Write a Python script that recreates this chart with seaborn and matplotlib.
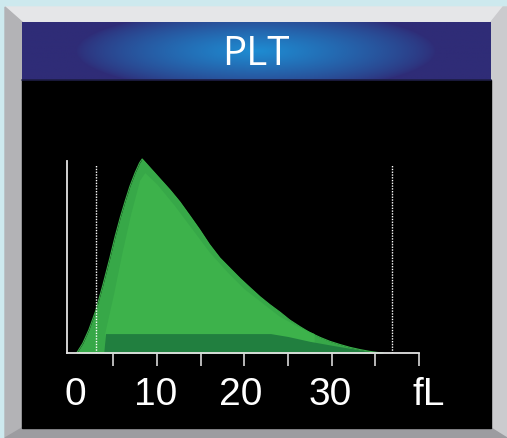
import numpy as np
import pandas as pd
import matplotlib
matplotlib.use("Agg")
import matplotlib.pyplot as plt
from matplotlib.patches import Polygon, Rectangle
import seaborn as sns

# PLT volume histogram (fL vs. relative height)
volume = [0.8, 1.5, 2.2, 3.0, 3.8, 4.6, 5.2, 5.8, 6.4, 6.9, 7.5, 8.0, 8.3,
          9.0, 10.3, 11.5, 12.6, 13.8, 14.9, 16.0, 17.2, 18.4, 19.5, 20.7,
          21.8, 22.9, 24.1, 25.2, 26.4, 27.5, 28.7, 29.8, 31.0, 32.1, 33.3,
          34.4, 35.2, 35.9]
height = [0.0, 0.05, 0.12, 0.22, 0.35, 0.49, 0.60, 0.70, 0.79, 0.86, 0.93,
          0.98, 1.0, 0.965, 0.90, 0.84, 0.78, 0.705, 0.635, 0.56, 0.49, 0.435,
          0.385, 0.335, 0.29, 0.25, 0.21, 0.17, 0.135, 0.105, 0.08, 0.06,
          0.043, 0.029, 0.017, 0.008, 0.003, 0.0]
# lighter inner face of the 3D hump
inner_volume = [4.0, 5.0, 6.0, 7.0, 8.0, 8.6, 10.0, 12.0, 14.0, 16.0, 18.0,
                20.0, 22.0, 24.0, 26.0, 28.0]
inner_height = [0.10, 0.30, 0.52, 0.72, 0.89, 0.93, 0.87, 0.76, 0.64, 0.52,
                0.42, 0.33, 0.26, 0.19, 0.14, 0.10]
# dark base band
base_volume = [3.9, 4.1, 23.0, 25.0, 27.5, 30.0, 32.0, 34.0, 35.9]
base_height = [0.0, 0.10, 0.10, 0.085, 0.06, 0.04, 0.025, 0.01, 0.0]

limits = [3.0, 36.9]
tick_pos = [5, 10, 15, 20, 25, 30, 35, 40]
label_pos = [0.6, 9.8, 19.6, 29.8, 41.1]
label_txt = ["0", "10", "20", "30", "fL"]
title = "PLT"

df = pd.DataFrame({"volume": volume, "height": height})

sns.set_theme(style="dark")
plt.rcParams["font.family"] = ["Liberation Sans", "DejaVu Sans"]

W, H = 507, 438
fig = plt.figure(figsize=(W / 100, H / 100), dpi=100)

# background frame drawn in pixel coordinates
bg = fig.add_axes([0, 0, 1, 1])
bg.set_xlim(0, W)
bg.set_ylim(H, 0)
bg.axis("off")
bg.add_patch(Rectangle((0, 0), W, H, color="#cde9ee"))
bg.add_patch(Polygon([(5, 7), (503, 7), (491, 22), (22, 22)], color="#e5e6e8"))
bg.add_patch(Polygon([(5, 7), (22, 22), (22, 428), (5, 438)], color="#b3b3b6"))
bg.add_patch(Polygon([(503, 7), (507, 7), (507, 438), (491, 428), (491, 22)], color="#cbcbce"))
bg.add_patch(Polygon([(5, 438), (22, 428), (491, 428), (507, 438)], color="#9c9ca0"))
bg.add_patch(Rectangle((22, 80), 469, 348, color="black"))

# header with radial blue glow
gx = np.linspace(22, 491, 400)
gy = np.linspace(22, 80, 60)
XX, YY = np.meshgrid(gx, gy)
r = np.sqrt(((XX - 256) / 180) ** 2 + ((YY - 51) / 42) ** 2)
t = np.clip(1 - r, 0, 1) ** 0.75
c0 = np.array([0x2f, 0x2c, 0x77]) / 255
c1 = np.array([0x1e, 0x8c, 0xd2]) / 255
img = c0 + (c1 - c0) * t[..., None]
bg.imshow(img, extent=[22, 491, 80, 22], aspect="auto", zorder=2)
bg.plot([22, 491], [80, 80], color="#1d1d45", lw=1.2, zorder=3)
bg.text(256, 65, title, color="white", fontsize=29, family=["Open Sans", "DejaVu Sans"],
        ha="center", va="baseline", zorder=4)

# chart axes: x=0 at px 69.7, 8.73 px per fL; y=0 at px 353, 194 px per unit
ax = fig.add_axes([0.1030, 0.1941, 0.8095, 0.4872])
ax.set_facecolor("none")
ax.set_xlim(-2, 45)
ax.set_ylim(0, 1.1)

ax.fill_between(volume, 0, height, color="#37a848", lw=0, zorder=2)
ax.fill_between(inner_volume, 0, inner_height, color="#3db24b", lw=0, zorder=3)
ax.fill_between(base_volume, 0, base_height, color="#217f3f", lw=0, zorder=4)
sns.lineplot(data=df, x="volume", y="height", color="#3aae4a", lw=0.8,
             ax=ax, zorder=5)

for v in limits:
    ax.plot([v, v], [0, 0.97], color="white", lw=1.0, ls=(0, (1, 1)), zorder=6)

for s in ["top", "right"]:
    ax.spines[s].set_visible(False)
ax.spines["left"].set_bounds(0, 0.99)
ax.spines["left"].set_position(("data", -0.3))
ax.spines["bottom"].set_bounds(-0.3, 40)
for s in ["left", "bottom"]:
    ax.spines[s].set_visible(True)
    ax.spines[s].set_color("#e4e4e4")
    ax.spines[s].set_linewidth(1.3)
    ax.spines[s].set_zorder(7)

ax.set_xticks(tick_pos)
ax.set_xticklabels([])
ax.set_yticks([])
ax.tick_params(axis="x", direction="out", length=9.5, width=1.2, color="#d8d8d8",
               bottom=True)
ax.set_xlabel("")
ax.set_ylabel("")
ax.grid(False)

for p, s in zip(label_pos, label_txt):
    ax.text(p, -0.268, s, color="white", fontsize=28, ha="center", va="baseline",
            clip_on=False)

fig.savefig("out.png", dpi=100, facecolor=fig.get_facecolor())
